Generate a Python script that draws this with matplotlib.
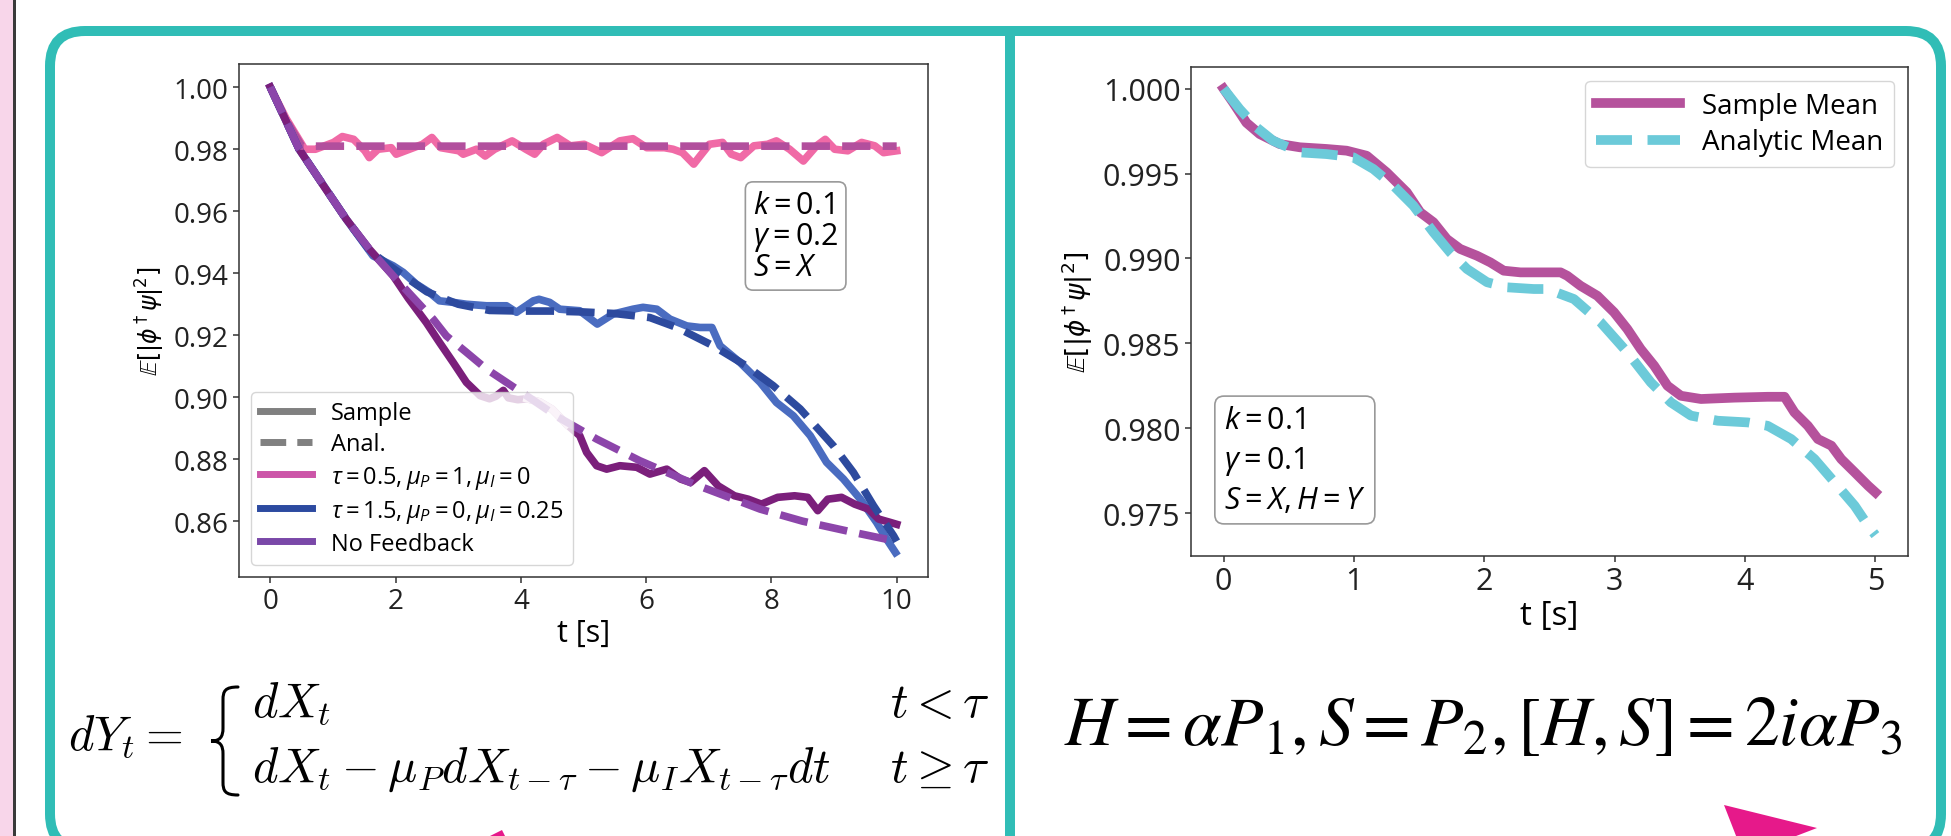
import matplotlib
matplotlib.use('Agg')
import numpy as np
import matplotlib.pyplot as plt
from matplotlib.lines import Line2D
from matplotlib.patches import FancyBboxPatch, Rectangle, Polygon, PathPatch
from matplotlib.path import Path
from matplotlib.transforms import IdentityTransform

plt.rcParams['font.family'] = ['Open Sans', 'DejaVu Sans']
plt.rcParams['mathtext.fontset'] = 'custom'
plt.rcParams['mathtext.rm'] = 'Open Sans'
plt.rcParams['mathtext.it'] = 'Open Sans:italic'
plt.rcParams['mathtext.bf'] = 'Open Sans:bold'

# ---- left chart data ----
t_pink = [0, 0.25, 0.55, 0.72, 1.01, 1.15, 1.33, 1.51, 1.58, 1.72, 1.93, 2.01, 2.22, 2.43,
          2.58, 2.72, 3.01, 3.08, 3.29, 3.43, 3.58, 3.86, 4.08, 4.22, 4.36, 4.58, 4.79, 5.01,
          5.29, 5.58, 5.79, 6.01, 6.29, 6.43, 6.58, 6.76, 6.86, 7.01, 7.22, 7.36, 7.51, 7.72,
          7.94, 8.08, 8.29, 8.51, 8.72, 8.86, 9.01, 9.22, 9.44, 9.65, 9.79, 10.0]
pink_sample = [1.0, 0.990, 0.980, 0.980, 0.9822, 0.9841, 0.9832, 0.9795, 0.9773, 0.980, 0.9805,
               0.9784, 0.980, 0.9816, 0.9838, 0.9805, 0.9795, 0.9784, 0.980, 0.9778, 0.980,
               0.9827, 0.980, 0.9784, 0.9816, 0.9838, 0.9811, 0.9816, 0.9789, 0.9827, 0.9834,
               0.9805, 0.9805, 0.980, 0.9789, 0.9752, 0.9778, 0.9816, 0.9822, 0.9784, 0.9773,
               0.9811, 0.9816, 0.9827, 0.980, 0.9762, 0.9811, 0.9832, 0.980, 0.9795, 0.9822,
               0.9811, 0.9789, 0.9795]
t_pink_anal = [0, 0.25, 0.5, 10.0]
pink_anal = [1.0, 0.9895, 0.981, 0.981]

t_blue = [0, 0.46, 0.89, 1.21, 1.64, 1.96, 2.12, 2.33, 2.54, 2.70, 2.92, 3.13, 3.45, 3.77, 3.93,
          4.2, 4.29, 4.46, 4.62, 4.94, 5.22, 5.47, 5.79, 5.95, 6.17, 6.38, 6.65, 6.86, 7.05,
          7.18, 7.5, 7.82, 8.08, 8.35, 8.62, 8.88, 9.15, 9.42, 9.68, 9.84, 9.98]
blue_sample = [1.0, 0.980, 0.9671, 0.9575, 0.9456, 0.9424, 0.9403, 0.9365, 0.9338, 0.9311,
               0.9306, 0.9300, 0.9295, 0.9295, 0.9274, 0.9311, 0.9316, 0.9306, 0.9284, 0.9279,
               0.9236, 0.9268, 0.9284, 0.9290, 0.9284, 0.9252, 0.9230, 0.9225, 0.9225, 0.9166,
               0.9112, 0.9048, 0.8983, 0.8940, 0.8876, 0.8790, 0.8736, 0.8671, 0.8596, 0.8542,
               0.8499]
t_blue_anal = [0, 0.46, 0.89, 1.21, 1.6, 2.0, 2.5, 3.0, 3.5, 4.0, 4.5, 5.0, 5.5, 6.06, 6.49,
               7.07, 7.6, 8.03, 8.46, 8.99, 9.31, 9.63, 9.95, 10.0]
blue_anal = [1.0, 0.980, 0.9671, 0.9575, 0.947, 0.941, 0.934, 0.930, 0.928, 0.9278, 0.9278,
             0.9275, 0.927, 0.9257, 0.9225, 0.9166, 0.9101, 0.9037, 0.8962, 0.8843, 0.8757,
             0.8650, 0.8553, 0.8535]

t_purple = [0, 0.46, 0.89, 1.21, 1.58, 1.96, 2.2, 2.49, 2.7, 2.92, 3.13, 3.35, 3.5, 3.6, 3.72,
            3.8, 3.95, 4.1, 4.3, 4.5, 4.65, 4.73, 4.94, 5.05, 5.21, 5.37, 5.58, 5.85, 6.06,
            6.33, 6.55, 6.71, 6.93, 7.15, 7.41, 7.63, 7.84, 8.10, 8.37, 8.58, 8.74, 8.9, 9.12,
            9.33, 9.55, 9.71, 9.9, 10.0]
purple_sample = [1.0, 0.980, 0.967, 0.9575, 0.9478, 0.9392, 0.932, 0.9241, 0.9177, 0.9112,
                 0.9048, 0.9005, 0.8995, 0.9003, 0.9022, 0.8998, 0.8992, 0.8995, 0.8985, 0.8961,
                 0.8930, 0.8913, 0.8876, 0.8822, 0.8779, 0.8768, 0.8779, 0.8774, 0.8752, 0.8768,
                 0.8736, 0.8725, 0.8763, 0.8714, 0.8682, 0.8671, 0.8655, 0.8677, 0.8682, 0.8677,
                 0.8634, 0.8671, 0.8677, 0.8655, 0.8639, 0.8607, 0.8596, 0.8590]
t_purple_anal = [0, 0.46, 0.89, 1.21, 1.58, 1.96, 2.6, 2.81, 3.13, 3.45, 3.77, 4.09, 4.6, 5.21,
                 5.90, 6.76, 7.82, 8.5, 9.31, 10.0]
purple_anal = [1.0, 0.980, 0.9671, 0.9575, 0.9478, 0.9392, 0.9252, 0.9198, 0.9145, 0.9091,
               0.9048, 0.9005, 0.8935, 0.8865, 0.8795, 0.8720, 0.8639, 0.8600, 0.8564, 0.8535]

# ---- right chart data ----
t_mean = [0, 0.072, 0.175, 0.277, 0.431, 0.585, 0.79, 0.944, 1.098, 1.251, 1.405, 1.508, 1.61,
          1.713, 1.815, 1.944, 2.046, 2.149, 2.277, 2.482, 2.585, 2.636, 2.738, 2.867, 2.995,
          3.097, 3.2, 3.303, 3.405, 3.508, 3.662, 3.918, 4.174, 4.303, 4.379, 4.482, 4.559,
          4.662, 4.738, 4.841, 4.944, 5.0]
sample_mean = [1.0, 0.9992, 0.9980, 0.99733, 0.99674, 0.99655, 0.99645, 0.99635, 0.99605,
               0.99507, 0.99390, 0.99272, 0.99213, 0.99114, 0.99056, 0.99016, 0.98977, 0.98928,
               0.98918, 0.98918, 0.98918, 0.98898, 0.98839, 0.98780, 0.98683, 0.98584, 0.98466,
               0.98368, 0.98250, 0.98191, 0.98172, 0.98180, 0.98185, 0.98185, 0.98093, 0.98014,
               0.97936, 0.97897, 0.97818, 0.97740, 0.97661, 0.97622]
t_anal = [0, 0.123, 0.251, 0.379, 0.585, 0.79, 0.995, 1.149, 1.303, 1.456, 1.61, 1.738, 1.867,
          2.021, 2.174, 2.379, 2.482, 2.687, 2.892, 3.097, 3.277, 3.431, 3.585, 3.79, 4.021,
          4.174, 4.354, 4.533, 4.687, 4.841, 4.944, 5.0]
analytic_mean = [1.0, 0.9988, 0.99773, 0.99694, 0.99625, 0.99615, 0.99596, 0.99527, 0.99429,
                 0.99311, 0.99154, 0.99036, 0.98938, 0.98860, 0.98830, 0.98820, 0.98820, 0.98761,
                 0.98624, 0.98447, 0.98270, 0.98152, 0.98074, 0.98044, 0.98034, 0.98014,
                 0.97936, 0.97818, 0.97681, 0.97543, 0.97425, 0.97370]

left_xticks = [0, 2, 4, 6, 8, 10]
left_yticks = [0.86, 0.88, 0.90, 0.92, 0.94, 0.96, 0.98, 1.00]
right_xticks = [0, 1, 2, 3, 4, 5]
right_yticks = [0.975, 0.980, 0.985, 0.990, 0.995, 1.000]

W, H = 1951, 837
TEAL = '#30bdb6'


def fx(x):
    return x / W


def fy(y):
    return 1 - y / H


def style_axes(ax, size):
    for s in ax.spines.values():
        s.set_linewidth(1.1)
        s.set_color('#333333')
    ax.tick_params(labelsize=size, length=4, width=1.1, color='#333333', labelcolor='#222222')


fig = plt.figure(figsize=(W / 100, H / 100), dpi=100)
fig.patch.set_facecolor('white')
ident = IdentityTransform()

# poster decorations
fig.patches.append(Rectangle((0, 0), 13, H, transform=ident, fc='#f8d6ea', ec='none'))
fig.patches.append(Rectangle((13, 0), 3, H, transform=ident, fc='#3a3a3a', ec='none'))
fig.patches.append(FancyBboxPatch((50, -13), 1891, 818, boxstyle='round,pad=0,rounding_size=35',
                                  transform=ident, fc='none', ec=TEAL, lw=7.2))
fig.patches.append(Rectangle((1005, -20), 10, 830, transform=ident, fc=TEAL, ec='none'))
fig.patches.append(Polygon([(1724, 31), (1817, 8), (1770, -10), (1740, -10)], closed=True,
                           transform=ident, fc='#e6198a', ec='none'))
fig.patches.append(Polygon([(486, -2), (502, 6), (506, -2)], closed=True,
                           transform=ident, fc='#e6198a', ec='none'))

# ---------------- left chart ----------------
ax1 = fig.add_axes([fx(239), fy(578), 689 / W, 513 / H])
c_pink_s, c_pink_a = '#f06aa6', '#b24f9d'
c_blue_s, c_blue_a = '#4a6cc0', '#2d4a9e'
c_purp_s, c_purp_a = '#7b1f7b', '#8c45aa'
lw = 5.5
ax1.plot(t_pink, pink_sample, color=c_pink_s, lw=lw, zorder=2)
ax1.plot(t_blue, blue_sample, color=c_blue_s, lw=lw, zorder=2)
ax1.plot(t_purple, purple_sample, color=c_purp_s, lw=lw, zorder=3)
tp = np.array(t_purple)
seg = (tp >= 4.1) & (tp <= 4.73)
ax1.plot(tp[seg], np.array(purple_sample)[seg], color='#e9c8e2', lw=lw, zorder=3.5)
ax1.plot(t_pink_anal, pink_anal, color=c_pink_a, lw=lw, ls='--', zorder=4)
ax1.plot(t_blue_anal, blue_anal, color=c_blue_a, lw=lw, ls='--', zorder=4)
ax1.plot(t_purple_anal, purple_anal, color=c_purp_a, lw=lw, ls='--', zorder=4)
ax1.set_xlim(-0.5, 10.5)
ax1.set_ylim(0.842, 1.0075)
ax1.set_xticks(left_xticks)
ax1.set_yticks(left_yticks)
ax1.set_yticklabels([f'{v:.2f}' for v in left_yticks])
style_axes(ax1, 20)
ax1.set_xlabel('t [s]', fontsize=22, labelpad=2)
ax1.set_ylabel(r'$\mathbb{E}[|\phi^\dagger\psi|^2]$', fontsize=17, math_fontfamily='dejavusans',
               labelpad=5)
handles = [Line2D([], [], color='#808080', lw=5, label='Sample'),
           Line2D([], [], color='#808080', lw=5, ls='--', label='Anal.'),
           Line2D([], [], color='#cc55a8', lw=5, label=r'$\tau=0.5, \mu_P=1, \mu_I=0$'),
           Line2D([], [], color='#2c4aa0', lw=5, label=r'$\tau=1.5, \mu_P=0, \mu_I=0.25$'),
           Line2D([], [], color='#7a48a8', lw=5, label='No Feedback')]
ax1.legend(handles=handles, loc='lower left', fontsize=17, labelspacing=0.3,
           handlelength=2.2, framealpha=0.8)
fig.text(fx(753), fy(237), '$k = 0.1$\n$\\gamma = 0.2$\n$S = X$', fontsize=22,
         ha='left', va='center', linespacing=1.0, multialignment='left',
         bbox=dict(boxstyle='round,pad=0.25', fc='white', ec='#999999', lw=1.2))

# ---------------- right chart ----------------
ax2 = fig.add_axes([fx(1191), fy(557), 717 / W, 489 / H])
ax2.plot(t_mean, sample_mean, color='#b5529c', lw=7, label='Sample Mean')
ax2.plot(t_anal, analytic_mean, color='#6ccad9', lw=7, ls='--', label='Analytic Mean')
ax2.set_xlim(-0.25, 5.25)
ax2.set_ylim(0.97247, 1.00128)
ax2.set_xticks(right_xticks)
ax2.set_yticks(right_yticks)
ax2.set_yticklabels([f'{v:.3f}' for v in right_yticks])
style_axes(ax2, 22)
ax2.set_xlabel('t [s]', fontsize=24, labelpad=2)
ax2.set_ylabel(r'$\mathbb{E}[|\phi^\dagger\psi|^2]$', fontsize=19, math_fontfamily='dejavusans',
               labelpad=6)
ax2.legend(loc='upper right', fontsize=20, handlelength=3.0, labelspacing=0.3, framealpha=0.8)
fig.text(fx(1224), fy(461), '$k = 0.1$\n$\\gamma = 0.1$\n$S = X, H = Y$', fontsize=22,
         ha='left', va='center', linespacing=1.35, multialignment='left',
         bbox=dict(boxstyle='round,pad=0.3', fc='white', ec='#999999', lw=1.2))

# ---------------- equations ----------------
EQ = 35
fig.text(fx(68), fy(750), r'$dY_t =$', fontsize=EQ, math_fontfamily='cm', va='baseline')
xl, xm, xr = 211, 223, 238
yt, ym, yb = H - 688, H - 742, H - 796
r = 13
verts = [(xr, yt), (xm + 2, yt), (xm, yt - 4), (xm, yt - r),
         (xm, ym + r),
         (xm, ym + 4), (xm - 3, ym), (xl, ym),
         (xm - 3, ym), (xm, ym - 4), (xm, ym - r),
         (xm, yb + r),
         (xm, yb + 4), (xm + 2, yb), (xr, yb)]
codes = [Path.MOVETO, Path.CURVE4, Path.CURVE4, Path.CURVE4, Path.LINETO,
         Path.CURVE4, Path.CURVE4, Path.CURVE4, Path.CURVE4, Path.CURVE4, Path.CURVE4,
         Path.LINETO, Path.CURVE4, Path.CURVE4, Path.CURVE4]
fig.patches.append(PathPatch(Path(verts, codes), transform=ident, fc='none', ec='black', lw=2.2,
                             capstyle='round'))
fig.text(fx(252), fy(717), r'$dX_t$', fontsize=EQ, math_fontfamily='cm', va='baseline')
fig.text(fx(252), fy(782), r'$dX_t - \mu_P dX_{t-\tau} - \mu_I X_{t-\tau} dt$', fontsize=EQ,
         math_fontfamily='cm', va='baseline')
fig.text(fx(890), fy(717), r'$t < \tau$', fontsize=EQ, math_fontfamily='cm', va='baseline')
fig.text(fx(890), fy(782), r'$t \geq \tau$', fontsize=EQ, math_fontfamily='cm', va='baseline')

fig.text(fx(1064), fy(745), r'$H = \alpha P_1, S = P_2, [H, S] = 2i\alpha P_3$', fontsize=50,
         math_fontfamily='stix', va='baseline')

fig.savefig('out.png', dpi=100, facecolor='white')
